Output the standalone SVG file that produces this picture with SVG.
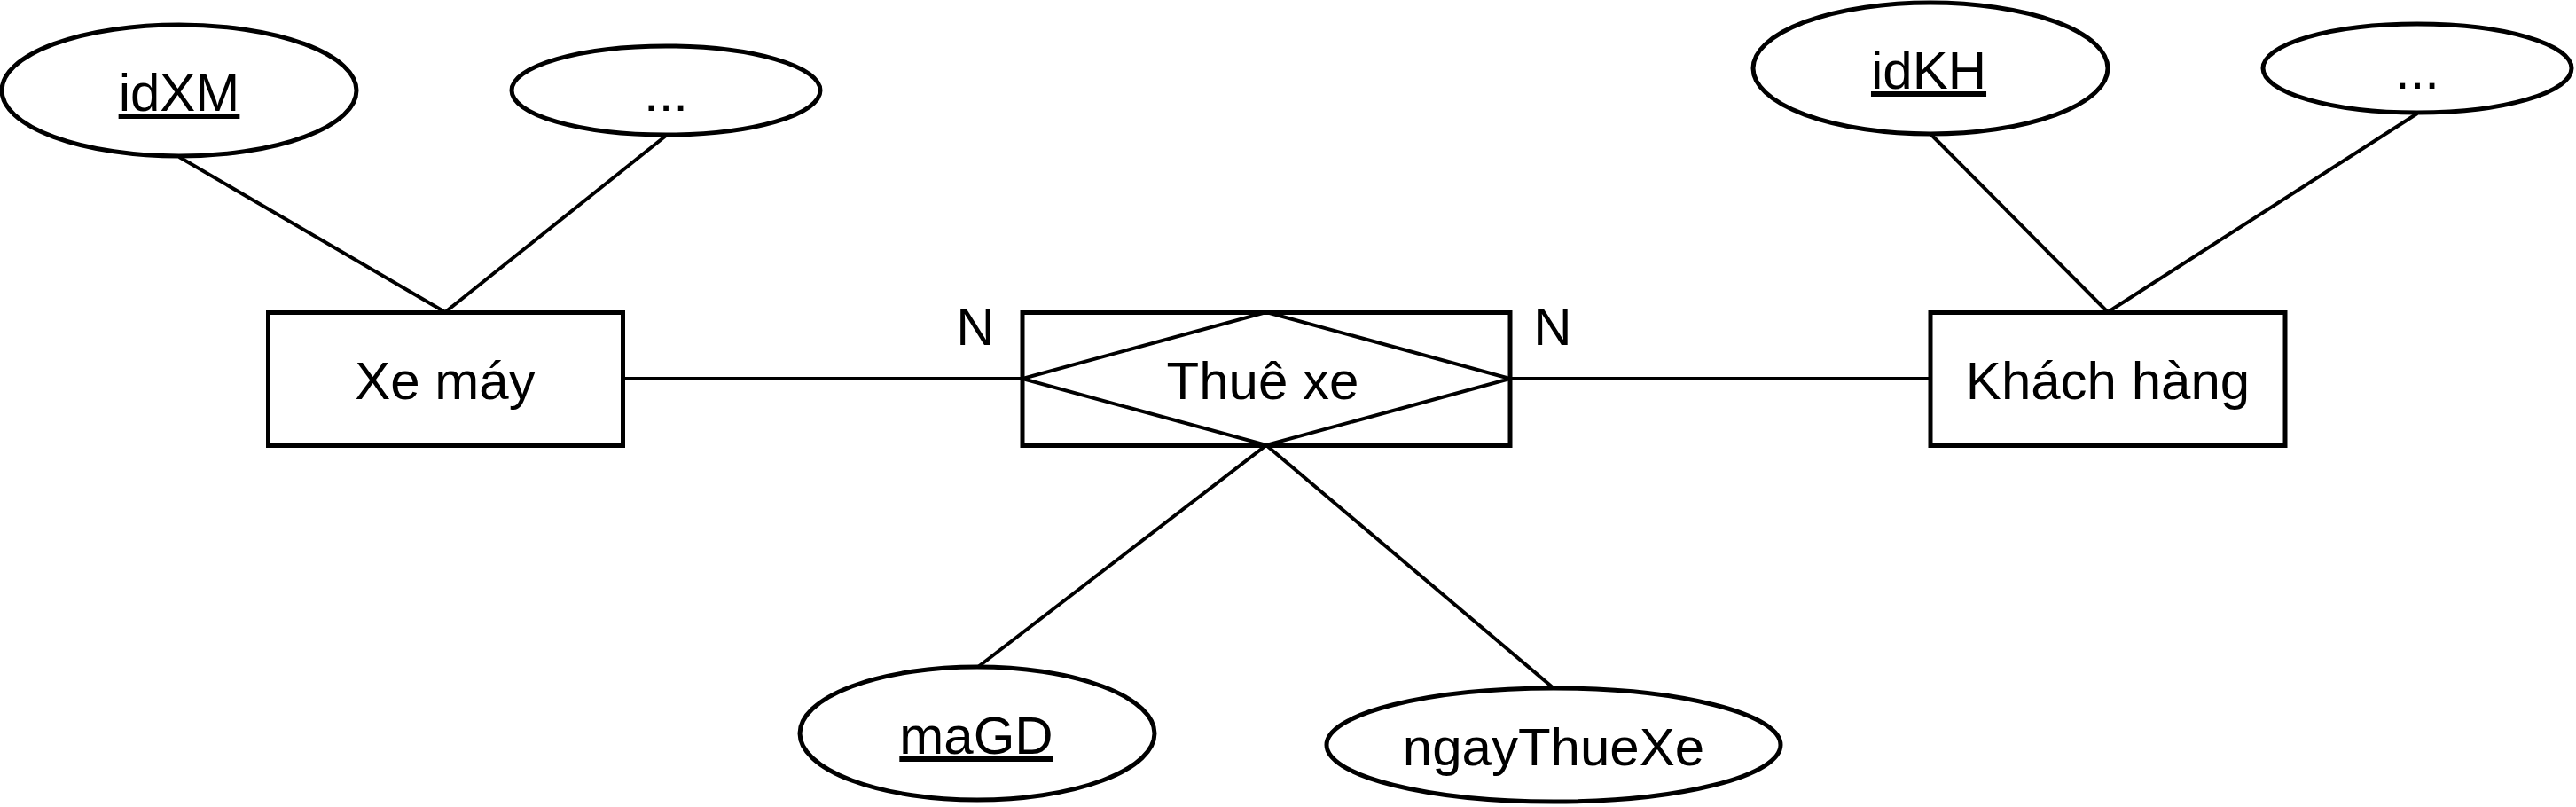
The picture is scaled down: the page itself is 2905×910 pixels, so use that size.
<svg xmlns="http://www.w3.org/2000/svg" width="2905" height="910" viewBox="0 0 2905 910">
<style>
.s{fill:#fff;stroke:#000;stroke-width:5}
.d{fill:none;stroke:#000;stroke-width:4}
.c{fill:none;stroke:#000;stroke-width:4}
.t{font-family:"Liberation Sans",Arial,sans-serif;font-size:60px;fill:#000;text-anchor:middle}
.u{text-decoration:underline}
</style>
<rect width="2905" height="910" fill="#fff"/>
<g id="connectors">
<line class="c" x1="202" y1="177" x2="502" y2="352"/>
<line class="c" x1="751" y1="153" x2="502" y2="352"/>
<line class="c" x1="2178" y1="152" x2="2377" y2="352"/>
<line class="c" x1="2726" y1="128" x2="2377" y2="352"/>
<line class="c" x1="702" y1="427" x2="1153" y2="427"/>
<line class="c" x1="1703" y1="427" x2="2177" y2="427"/>
<line class="c" x1="1428" y1="502" x2="1103" y2="752"/>
<line class="c" x1="1428" y1="502" x2="1752" y2="776"/>
<text class="t" x="1100" y="389">N</text>
<text class="t" x="1751" y="389">N</text>
</g>
<g id="idXM">
<ellipse class="s" cx="202" cy="102" rx="200" ry="74"/>
<text class="t u" x="202" y="125">idXM</text>
</g>
<g id="attrXM">
<ellipse class="s" cx="751" cy="102" rx="174" ry="50"/>
<text class="t" x="751" y="125">...</text>
</g>
<g id="xemay">
<rect class="s" x="302.5" y="352.5" width="400" height="150"/>
<text class="t" x="502" y="450">Xe máy</text>
</g>
<g id="thuexe">
<rect class="s" x="1153" y="352.5" width="550" height="150"/>
<polygon class="d" points="1428,352 1703,427 1428,502 1153,427"/>
<text class="t" x="1424" y="450">Thuê xe</text>
</g>
<g id="khachhang">
<rect class="s" x="2177" y="352.5" width="400" height="150"/>
<text class="t" x="2377" y="450">Khách hàng</text>
</g>
<g id="idKH">
<ellipse class="s" cx="2177" cy="77" rx="200" ry="74"/>
<text class="t u" x="2175" y="100">idKH</text>
</g>
<g id="attrKH">
<ellipse class="s" cx="2726" cy="77" rx="174" ry="50"/>
<text class="t" x="2726" y="100">...</text>
</g>
<g id="maGD">
<ellipse class="s" cx="1102" cy="827" rx="200" ry="75"/>
<text class="t u" x="1101" y="850">maGD</text>
</g>
<g id="ngayThueXe">
<ellipse class="s" cx="1752" cy="840" rx="256" ry="64"/>
<text class="t" x="1752" y="863">ngayThueXe</text>
</g>
</svg>
